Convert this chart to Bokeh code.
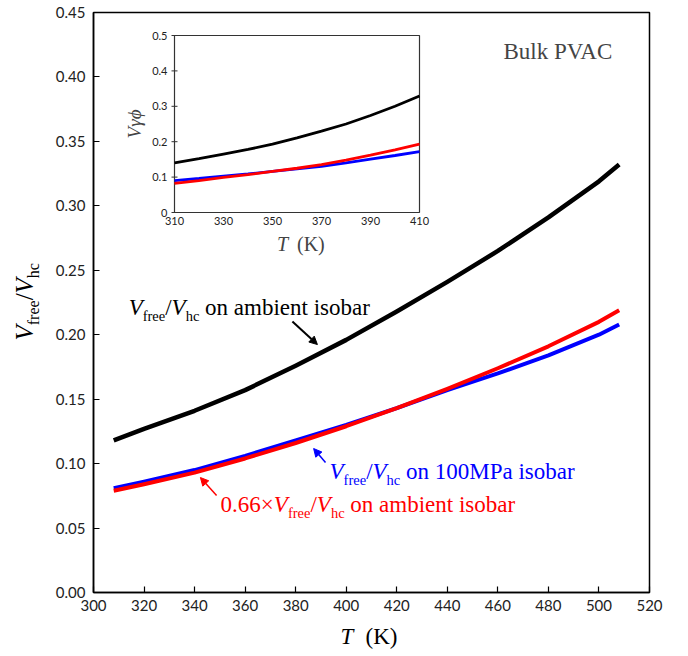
import math
from bokeh.plotting import figure
from bokeh.layouts import row, column
from bokeh.models import Range1d, Label, Arrow, NormalHead, FixedTicker, PrintfTickFormatter
from bokeh.embed import file_html
from bokeh.resources import INLINE
from bokeh.core.properties import value

# ---------------- data ----------------
T_main = [308, 320, 340, 360, 380, 400, 420, 440, 460, 480, 500, 508]
black_main = [0.118, 0.127, 0.141, 0.157, 0.176, 0.196, 0.218, 0.241, 0.265, 0.291, 0.319, 0.332]
blue_main = [0.081, 0.086, 0.095, 0.106, 0.118, 0.130, 0.143, 0.157, 0.170, 0.184, 0.200, 0.208]
red_main = [0.079, 0.084, 0.093, 0.104, 0.116, 0.129, 0.143, 0.158, 0.174, 0.191, 0.210, 0.219]

T_inset = [310, 320, 330, 340, 350, 360, 370, 380, 390, 400, 410]
black_inset = [0.140, 0.152, 0.165, 0.178, 0.193, 0.211, 0.230, 0.250, 0.274, 0.300, 0.329]
red_inset = [0.082, 0.090, 0.099, 0.107, 0.116, 0.125, 0.135, 0.148, 0.162, 0.177, 0.193]
blue_inset = [0.090, 0.096, 0.103, 0.109, 0.116, 0.123, 0.130, 0.140, 0.151, 0.161, 0.172]

x_ticks = list(range(300, 521, 20))
y_ticks = [0.0, 0.05, 0.10, 0.15, 0.20, 0.25, 0.30, 0.35, 0.40, 0.45]
inset_x_ticks = [310, 330, 350, 370, 390, 410]
inset_x_labels = ["310", "330", "350", "370", "390", "410"]
inset_y_ticks = [0, 0.1, 0.2, 0.3, 0.4, 0.5]
inset_y_labels = ["0", "0.1", "0.2", "0.3", "0.4", "0.5"]

BLACK, BLUE, RED = "#000000", "#0000ff", "#ff0000"
SERIF = "Liberation Serif"
MID = 0.33   # distance (in em) from the alphabetic baseline up to the "middle" anchor

# ---------------- layout (page pixels) ----------------
LEFT_W = 48
MAIN_W, MAIN_H = 688 - 8 - LEFT_W, 624
FRAME_L, FRAME_R, FRAME_T, FRAME_B = 93, 649, 12, 592
INS_L, INS_R, INS_T, INS_B = 174, 419, 35, 212
BOT_H = 32

p = figure(width=MAIN_W, height=MAIN_H, x_range=Range1d(300, 520), y_range=Range1d(0, 0.45),
           output_backend="svg", toolbar_location=None,
           min_border_left=FRAME_L - LEFT_W, min_border_right=LEFT_W + MAIN_W - FRAME_R,
           min_border_top=FRAME_T, min_border_bottom=MAIN_H - FRAME_B)
p.title.visible = False
p.grid.visible = False
p.outline_line_color = "black"
p.outline_line_width = 1.5

for ax in (p.xaxis, p.yaxis):
    ax.axis_line_color = "black"
    ax.axis_line_width = 1.5
    ax.major_tick_in = 6
    ax.major_tick_out = 0
    ax.major_tick_line_width = 1.2
    ax.minor_tick_line_color = None
    ax.major_label_text_font = "Lato"
    ax.major_label_text_font_size = "15px"
    ax.major_label_text_color = "#222222"
p.xaxis.ticker = FixedTicker(ticks=x_ticks)
p.yaxis.ticker = FixedTicker(ticks=y_ticks)
p.yaxis.formatter = PrintfTickFormatter(format="%.2f")
p.xaxis.major_label_standoff = 7
p.yaxis.major_label_standoff = 8

p.line(T_main, black_main, line_color=BLACK, line_width=4.5, line_join="round")
p.line(T_main, blue_main, line_color=BLUE, line_width=4, line_join="round")
p.line(T_main, red_main, line_color=RED, line_width=4, line_join="round")

# ---------------- inset (own ranges mapped onto the inset box) ----------------
sx = (INS_R - INS_L) / 100.0
sy = (INS_B - INS_T) / 0.5
p.extra_x_ranges = {"ix": Range1d(310 - (INS_L - FRAME_L) / sx, 310 + (FRAME_R - INS_L) / sx)}
p.extra_y_ranges = {"iy": Range1d(0 - (FRAME_B - INS_B) / sy, 0 + (INS_B - FRAME_T) / sy)}
IR = dict(x_range_name="ix", y_range_name="iy")

p.quad(left=[310], right=[410], bottom=[0], top=[0.5], fill_color="white",
       line_color="#333333", line_width=1.2, **IR)
p.scatter(x=[310] * len(inset_y_ticks), y=inset_y_ticks, marker="dash", size=6,
          line_color="#333333", line_width=1, **IR)
p.line(T_inset, black_inset, line_color=BLACK, line_width=2.8, **IR)
p.line(T_inset, blue_inset, line_color=BLUE, line_width=2.8, **IR)
p.line(T_inset, red_inset, line_color=RED, line_width=2.8, **IR)
p.text(x=[310] * len(inset_y_ticks), y=inset_y_ticks, text=inset_y_labels,
       text_align="right", text_baseline="middle", x_offset=-7,
       text_font=value("Lato"), text_font_size="11px", text_color="#222222", **IR)
p.text(x=inset_x_ticks, y=[0] * len(inset_x_ticks), text=inset_x_labels,
       text_align="center", text_baseline="top", y_offset=4,
       text_font=value("Lato"), text_font_size="11px", text_color="#222222", **IR)

p.add_layout(Label(x=310, y=0.25, x_offset=-(INS_L - 140) - MID * 19, text="Vγϕ",
                   angle=math.pi / 2, text_font=SERIF, text_font_style="italic",
                   text_font_size="19px", text_align="center", text_baseline="middle", **IR))
p.add_layout(Label(x=360, y=0, x_offset=277 - 297, y_offset=-(250 - INS_B) + MID * 20, text="T",
                   text_font=SERIF, text_font_style="italic", text_font_size="20px",
                   text_baseline="middle", **IR))
p.add_layout(Label(x=360, y=0, x_offset=0, y_offset=-(250 - INS_B) + MID * 20, text="(K)",
                   text_font=SERIF, text_font_size="20px", text_baseline="middle", **IR))

# ---------------- rich text helper ----------------
W_ROMAN = {' ': 250, '(': 333, ')': 333, '.': 250, '/': 278, 'A': 722, 'B': 667, 'C': 667,
           'K': 722, 'M': 889, 'P': 556, 'V': 722, 'a': 444, 'b': 500, 'c': 444, 'e': 444,
           'f': 333, 'h': 500, 'i': 278, 'k': 500, 'l': 278, 'm': 778, 'n': 500, 'o': 500,
           'r': 333, 's': 389, 't': 278, 'u': 500, '×': 564}
W_ITALIC = {'V': 611, 'T': 556}


def width(txt, size, italic):
    tab = W_ITALIC if italic else W_ROMAN
    return sum(tab.get(c, W_ROMAN.get(c, 500)) for c in txt) * size / 1000.0


def rich(pieces, x, y, color):
    off = 0.0
    for txt, size, italic, shift in pieces:
        lead = len(txt) - len(txt.lstrip(" "))
        off += lead * W_ROMAN[" "] * size / 1000.0
        txt = txt.lstrip(" ")
        p.add_layout(Label(x=x, y=y, x_offset=off, y_offset=-shift + MID * size, text=txt,
                           text_font=SERIF, text_font_size=f"{size}px",
                           text_font_style="italic" if italic else "normal",
                           text_color=color, text_baseline="middle", text_align="left"))
        off += width(txt, size, italic)


M, S, SH = 23, 14.5, 5
vfvh = [("V", M, True, 0), ("free", S, False, SH), ("/", M, False, 0),
        ("V", M, True, 0), ("hc", S, False, SH)]

rich(vfvh + [(" on ambient isobar", M, False, 0)], 313.9, 0.2149, BLACK)
rich(vfvh + [(" on 100MPa isobar", M, False, 0)], 393.4, 0.0877, BLUE)
rich([("0.66", M, False, 0), ("×", M, False, 0)] + vfvh + [(" on ambient isobar", M, False, 0)],
     350.3, 0.0621, RED)

p.add_layout(Label(x=462.2, y=0.4135, y_offset=MID * 23, text="Bulk PVAC", text_font=SERIF,
                   text_font_size="23px", text_baseline="middle"))

for (xs, ys, xe, ye, c, lw) in [(378.7, 0.2103, 388.6, 0.1924, BLACK, 2),
                                (391.8, 0.1009, 387.1, 0.1117, BLUE, 1.5),
                                (348.7, 0.0753, 342.3, 0.0892, RED, 1.5)]:
    p.add_layout(Arrow(end=NormalHead(size=8, fill_color=c, line_color=c),
                       x_start=xs, y_start=ys, x_end=xe, y_end=ye,
                       line_color=c, line_width=lw))

# ---------------- y-axis title strip (frame is aligned with the main frame) ----------------
FH = FRAME_B - FRAME_T
yl = figure(width=LEFT_W, height=MAIN_H, x_range=Range1d(0, LEFT_W), y_range=Range1d(0, FH),
            output_backend="svg", toolbar_location=None, x_axis_type=None, y_axis_type=None,
            min_border=0)
yl.title.visible = False
yl.outline_line_color = None
ypieces = [("V", 25, True, 0), ("free", 16, False, 6), ("/", 25, False, 0),
           ("V", 25, True, 0), ("hc", 16, False, 6)]
off = 0.0
base_x, base_y = 32, FRAME_B - 340
for txt, size, italic, shift in ypieces:
    yl.text(x=[base_x + shift - MID * size], y=[base_y + off], text=[txt], angle=math.pi / 2,
            text_font=value(SERIF), text_font_size=f"{size}px",
            text_font_style="italic" if italic else "normal",
            text_align="left", text_baseline="middle", text_color="black")
    off += width(txt, size, italic)

# ---------------- x-axis title strip ----------------
xl = figure(width=LEFT_W + MAIN_W, height=BOT_H, x_range=Range1d(0, LEFT_W + MAIN_W),
            y_range=Range1d(0, BOT_H), output_backend="svg", toolbar_location=None,
            x_axis_type=None, y_axis_type=None, min_border=0)
xl.title.visible = False
xl.outline_line_color = None
xmid = (MAIN_H + BOT_H) - 644 + MID * 23
xl.text(x=[340], y=[xmid], text=["T"], text_font=value(SERIF), text_font_style="italic",
        text_font_size="23px", text_baseline="middle", text_align="left")
xl.text(x=[365], y=[xmid], text=["(K)"], text_font=value(SERIF), text_font_style="normal",
        text_font_size="23px", text_baseline="middle", text_align="left")

layout = column(row(yl, p, spacing=0), xl, spacing=0)
open("out.html", "w").write(file_html(layout, INLINE))
